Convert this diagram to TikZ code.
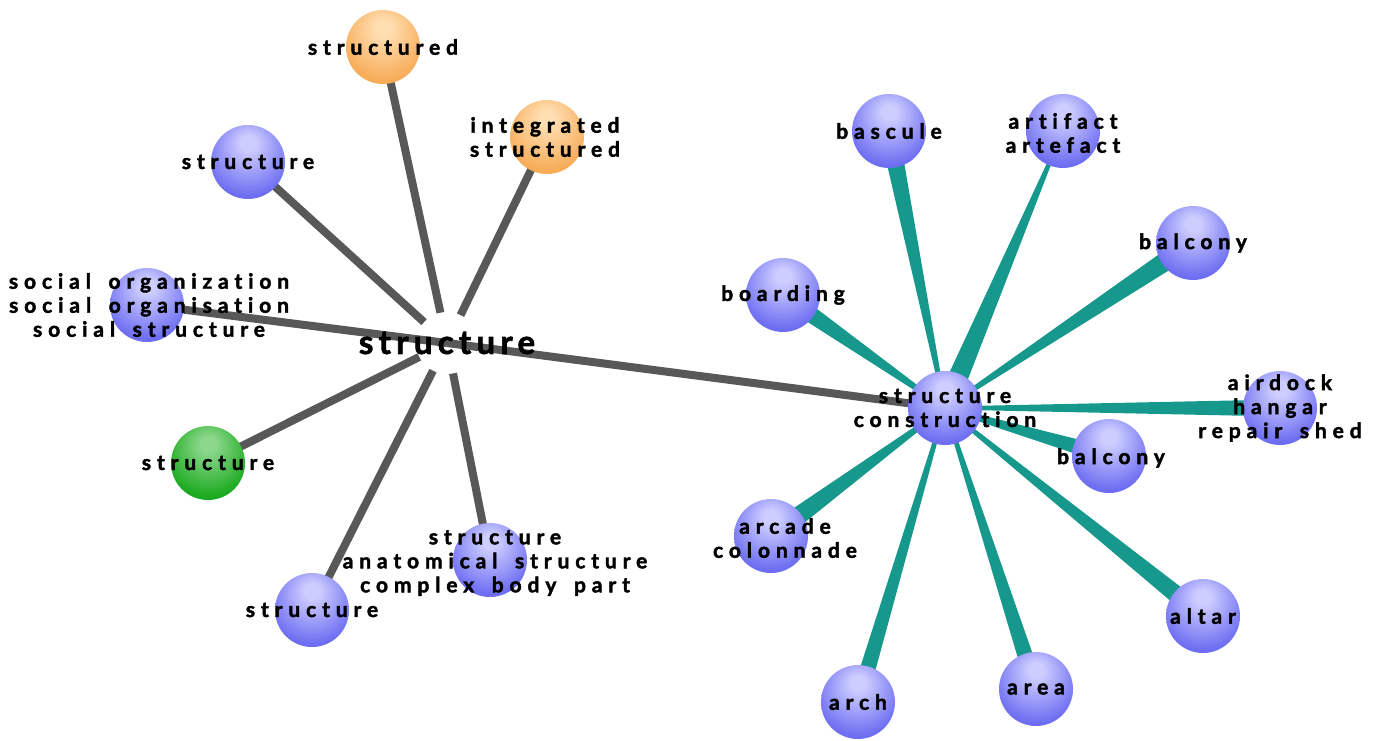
\documentclass[tikz,border=0pt]{standalone}
\usepackage{fontspec}
\setmainfont{Lato}
\usepackage{xcolor}
\usetikzlibrary{
  calc,
  backgrounds
}
\newfontfamily\lblfont{Lato}[LetterSpace=28, WordSpace=1.6, Ligatures=NoCommon, FakeBold=2]
\newfontfamily\hubfont{Lato}[LetterSpace=16, Ligatures=NoCommon, FakeBold=2]
\definecolor{blo}{RGB}{110,110,242}
\definecolor{blhi}{RGB}{205,205,255}
\definecolor{ora}{RGB}{247,172,88}
\definecolor{orhi}{RGB}{255,222,178}
\definecolor{gre}{RGB}{28,170,32}
\definecolor{grhi}{RGB}{140,215,140}
\definecolor{edg}{RGB}{88,88,88}
\definecolor{tea}{RGB}{22,152,140}
\pgfdeclareradialshading{blball}{\pgfpoint{0bp}{14bp}}{
  color(0bp)=(blhi); color(5bp)=(blhi); color(30bp)=(blo); color(50bp)=(blo); color(64bp)=(blo!85!black)}
\pgfdeclareradialshading{orball}{\pgfpoint{0bp}{14bp}}{
  color(0bp)=(orhi); color(5bp)=(orhi); color(30bp)=(ora); color(50bp)=(ora); color(64bp)=(ora!88!black)}
\pgfdeclareradialshading{grball}{\pgfpoint{0bp}{14bp}}{
  color(0bp)=(grhi); color(5bp)=(grhi); color(30bp)=(gre); color(50bp)=(gre); color(64bp)=(gre!85!black)}
\tikzset{
  sph/.style = {
    circle, minimum size=74pt, inner sep=0pt
  },
  bs/.style = {
    sph, shading=blball
  },
  os/.style = {
    sph, shading=orball
  },
  gs/.style = {
    sph, shading=grball
  },
  lb/.style = {
    font=\lblfont\bfseries\fontsize{21}{24}\selectfont,
    align=center, inner sep=0pt, text=black
  },
  hb/.style = {
    font=\hubfont\bfseries\fontsize{33}{36}\selectfont,
    inner sep=0pt, text=black
  },
  gl/.style = {
    draw=edg, line width=8pt
  }
}
\newcommand{\tealwedge}[4]{
  \fill [tea]
    ($(#1.center)!#3!90:(#2.center)$) -- ($(#1.center)!#3!-90:(#2.center)$) --
    ($(#2.center)!#4!90:(#1.center)$) -- ($(#2.center)!#4!-90:(#1.center)$) -- cycle;
}

\begin{document}
\begin{tikzpicture}[x=1pt, y=-1pt]
  \useasboundingbox (0,0) rectangle (1383,740);
  \path
    (447,343) node [hb] (hub) {structure}
    (383,47) node [os, label={[lb]center:structured}] (sd) {}
    (547,137) node [os, label={[lb, xshift=-2pt]center:{integrated\\structured}}] (isd) {}
    (248,162) node [bs, label={[lb]center:structure}] (st1) {}
    (147,305) node [bs, label={[lb, xshift=2pt]center:{social organization\\social organisation\\social structure}}] (soc) {}
    (208,463) node [gs, label={[lb]center:structure}] (st2) {}
    (312,610) node [bs, label={[lb]center:structure}] (st3) {}
    (490,560) node [bs, label={[lb, xshift=5pt, yshift=-3pt]center:{structure\\anatomical structure\\complex body part}}] (ana) {}
    (945,408) node [bs, label={[lb]center:{structure\\construction}}] (sc) {}
    (889,131) node [bs, label={[lb]center:bascule}] (bas) {}
    (1063,131) node [bs, label={[lb, yshift=-2pt]center:{artifact\\artefact}}] (art) {}
    (1193,243) node [bs, label={[lb]center:balcony}] (bal1) {}
    (783,295) node [bs, label={[lb]center:boarding}] (brd) {}
    (1280,408) node [bs, label={[lb]center:{airdock\\hangar\\repair shed}}] (air) {}
    (1109,456) node [bs, label={[lb, xshift=2pt, yshift=-2pt]center:balcony}] (bal2) {}
    (771,536) node [bs, label={[lb, xshift=14pt, yshift=-2pt]center:{arcade\\colonnade}}] (arc) {}
    (1203,616) node [bs, label={[lb]center:altar}] (alt) {}
    (1036,689) node [bs, label={[lb]center:area}] (are) {}
    (858,702) node [bs, label={[lb]center:arch}] (ach) {};
  \begin{scope}[on background layer]
    \foreach \t in {sd, isd, st1, st2, st3, ana}
      \draw [gl, shorten <=31pt] (hub.center) -- (\t.center);
    \draw [gl] (hub.center) -- (soc.center);
    \draw [gl] (hub.center) -- (sc.center);
    \tealwedge{sc}{bas}{1.5pt}{9.5pt}
    \tealwedge{sc}{art}{11pt}{1pt}
    \tealwedge{sc}{bal1}{1.5pt}{10.5pt}
    \tealwedge{sc}{brd}{1.5pt}{9.5pt}
    \tealwedge{sc}{air}{1.5pt}{8.5pt}
    \tealwedge{sc}{bal2}{2pt}{8.5pt}
    \tealwedge{sc}{arc}{1.5pt}{10.5pt}
    \tealwedge{sc}{alt}{1.5pt}{9.5pt}
    \tealwedge{sc}{are}{1.5pt}{8.5pt}
    \tealwedge{sc}{ach}{1.5pt}{8.5pt}
  \end{scope}
\end{tikzpicture}
\end{document}
